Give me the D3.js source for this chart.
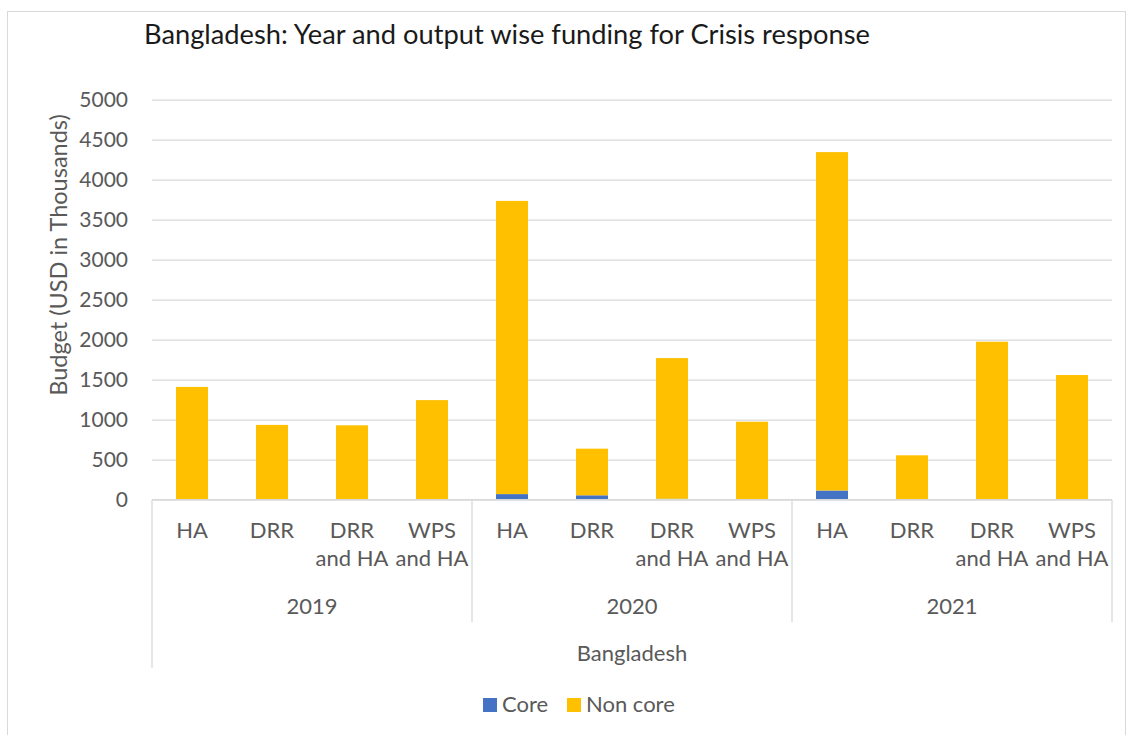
<!DOCTYPE html>
<html>
<head>
<meta charset="utf-8">
<script src="https://cdn.jsdelivr.net/npm/d3@7"></script>
<style>
  html, body { margin: 0; padding: 0; background: #fff; }
  svg text { font-family: Lato, "Open Sans", sans-serif; }
</style>
</head>
<body>
<svg id="chart" width="1132" height="735"></svg>
<script>
// ---- data ----
const title = "Bangladesh: Year and output wise funding for Crisis response";
const country = "Bangladesh";
const years = ["2019", "2020", "2021"];
const outputs = ["HA", "DRR", "DRR and HA", "WPS and HA"];
const outputLines = [["HA"], ["DRR"], ["DRR", "and HA"], ["WPS", "and HA"]];
const seriesNames = ["Core", "Non core"];
const coreValues    = [0, 0, 0, 0,   70, 55, 12, 0,   115, 0, 0, 0];
const nonCoreValues = [1410, 935, 930, 1245,   3665, 583, 1758, 975,   4230, 555, 1975, 1558];
const yTicks = [0, 500, 1000, 1500, 2000, 2500, 3000, 3500, 4000, 4500, 5000];
const yTitle = "Budget (USD in Thousands)";

// ---- layout ----
const svg = d3.select("#chart");
const plot = { left: 152, right: 1112, top: 99.7, bottom: 499.7 };
const colors = { core: "#4472C4", noncore: "#FFC000", grid: "#D9D9D9", text: "#595959" };

// outer chart border
svg.append("rect").attr("x", 7.5).attr("y", 11.5).attr("width", 1118).attr("height", 740)
  .attr("fill", "#fff").attr("stroke", "#D9D9D9").attr("stroke-width", 1);

// categories
const cats = [];
years.forEach(y => outputs.forEach((o, i) => cats.push({ year: y, output: o, lines: outputLines[i], key: y + "|" + o })));
const rows = cats.map((c, i) => ({ key: c.key, core: coreValues[i], noncore: nonCoreValues[i] }));

const x = d3.scaleBand().domain(cats.map(c => c.key)).range([plot.left, plot.right])
  .paddingInner(0.6).paddingOuter(0.3);
const xYear = d3.scaleBand().domain(years).range([plot.left, plot.right]).padding(0);
const y = d3.scaleLinear().domain([0, 5000]).range([plot.bottom, plot.top]);

// gridlines + y ticks
const yAxis = d3.axisLeft(y).tickValues(yTicks).tickFormat(d3.format("d"))
  .tickSize(-(plot.right - plot.left)).tickPadding(24);
const gy = svg.append("g").attr("transform", `translate(${plot.left},0)`).call(yAxis);
gy.select(".domain").remove();
gy.selectAll(".tick line").attr("stroke", colors.grid).attr("stroke-width", 1.3);
gy.selectAll(".tick text").attr("fill", colors.text).style("font-size", "21px").style("font-family", "Lato");

// stacked bars
const stack = d3.stack().keys(["core", "noncore"]);
const stacked = stack(rows);
const colorOf = { core: colors.core, noncore: colors.noncore };
svg.append("g").selectAll("g").data(stacked).join("g")
  .attr("fill", d => colorOf[d.key])
  .selectAll("rect").data(d => d).join("rect")
  .attr("x", d => x(d.data.key))
  .attr("width", x.bandwidth())
  .attr("y", d => y(d[1]))
  .attr("height", d => Math.max(0, y(d[0]) - y(d[1])));

// category axis line
const ax = svg.append("g").attr("stroke", colors.grid).attr("stroke-width", 1.3);
ax.append("line").attr("x1", plot.left).attr("x2", plot.right).attr("y1", plot.bottom).attr("y2", plot.bottom);
ax.append("line").attr("x1", plot.left).attr("x2", plot.left).attr("y1", plot.bottom).attr("y2", 668);
years.forEach(yr => {
  const xe = xYear(yr) + xYear.bandwidth();
  ax.append("line").attr("x1", xe).attr("x2", xe).attr("y1", plot.bottom).attr("y2", 622);
});

// category labels
const lab = svg.append("g").attr("fill", colors.text).style("font-size", "22px").attr("text-anchor", "middle");
cats.forEach(c => {
  const cx = x(c.key) + x.bandwidth() / 2;
  c.lines.forEach((ln, j) => {
    lab.append("text").attr("x", cx).attr("y", 538 + j * 28).text(ln);
  });
});
years.forEach(yr => {
  lab.append("text").attr("x", xYear(yr) + xYear.bandwidth() / 2).attr("y", 614).text(yr);
});
lab.append("text").attr("x", (plot.left + plot.right) / 2).attr("y", 661).text(country);

// y axis title
svg.append("text").attr("transform", `translate(67,255) rotate(-90)`)
  .attr("text-anchor", "middle").attr("fill", colors.text).style("font-size", "23.5px").text(yTitle);

// chart title
const t = svg.append("text").attr("x", 144).attr("y", 44).attr("fill", "#1A1A1A")
  .style("font-size", "26px").text(title);
const tw = t.node().getComputedTextLength();
t.style("font-size", (26 * 726 / tw).toFixed(2) + "px");

// legend
const legendX = [483, 567];
const lg = svg.append("g");
seriesNames.forEach((s, i) => {
  lg.append("rect").attr("x", legendX[i]).attr("y", 698).attr("width", 14).attr("height", 14)
    .attr("fill", i === 0 ? colors.core : colors.noncore);
  lg.append("text").attr("x", legendX[i] + 19).attr("y", 712).attr("fill", colors.text)
    .style("font-size", "22px").text(s);
});
</script>
</body>
</html>
